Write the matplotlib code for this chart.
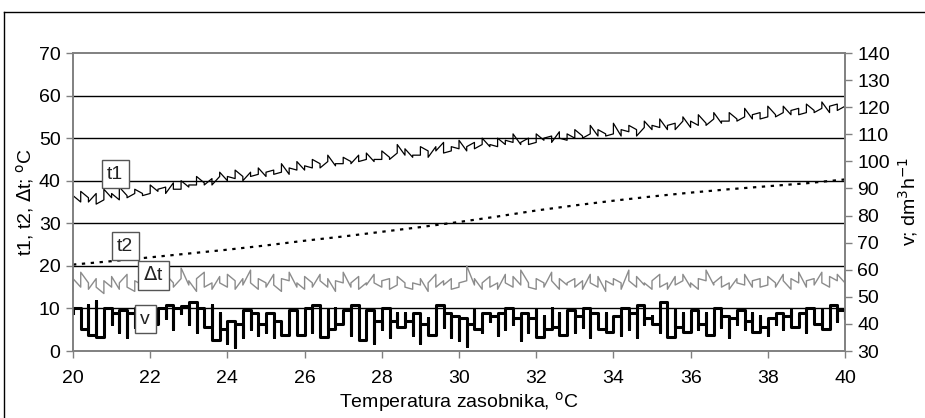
import matplotlib
matplotlib.use("Agg")
import matplotlib.pyplot as plt
from matplotlib.lines import Line2D
import numpy as np

plt.rcParams['font.family'] = ['Liberation Sans', 'DejaVu Sans']
plt.rcParams['font.size'] = 14

# tank temperature, C (each step has a pair of readings)
temp = [20.0, 20.2, 20.4, 20.6, 20.8, 21.0, 21.2, 21.4, 21.6, 21.8,
        22.0, 22.2, 22.4, 22.6, 22.8, 23.0, 23.2, 23.4, 23.6, 23.8,
        24.0, 24.2, 24.4, 24.6, 24.8, 25.0, 25.2, 25.4, 25.6, 25.8,
        26.0, 26.2, 26.4, 26.6, 26.8, 27.0, 27.2, 27.4, 27.6, 27.8,
        28.0, 28.2, 28.4, 28.6, 28.8, 29.0, 29.2, 29.4, 29.6, 29.8,
        30.0, 30.2, 30.4, 30.6, 30.8, 31.0, 31.2, 31.4, 31.6, 31.8,
        32.0, 32.2, 32.4, 32.6, 32.8, 33.0, 33.2, 33.4, 33.6, 33.8,
        34.0, 34.2, 34.4, 34.6, 34.8, 35.0, 35.2, 35.4, 35.6, 35.8,
        36.0, 36.2, 36.4, 36.6, 36.8, 37.0, 37.2, 37.4, 37.6, 37.8,
        38.0, 38.2, 38.4, 38.6, 38.8, 39.0, 39.2, 39.4, 39.6, 39.8,
        40.0]

t1 = [34, 36.5, 35, 37.5, 36, 35, 37, 34.5, 35.5, 38,
      36, 37, 35.5, 38.5, 36.5, 36, 37, 38, 37, 36.5,
      37, 39, 37.5, 38, 38.5, 37, 39.5, 38, 38, 40,
      38.5, 39, 39, 41, 39.5, 39, 40.5, 39, 41, 42,
      40, 41, 40.5, 42.5, 41, 40, 42, 41, 41.5, 43,
      41, 42, 42.5, 41.5, 42, 44, 41.5, 43, 42.5, 44.5,
      42.5, 43.5, 43, 45, 44, 43, 44.5, 46, 43.5, 44,
      44, 45.5, 44.5, 44, 46, 44.5, 45, 46.5, 44.5, 45,
      45, 47, 45.5, 45, 46.5, 48.5, 46, 47.5, 45.5, 46,
      46, 48, 47, 45.5, 48, 47, 49, 46.5, 47, 48,
      47.5, 49.5, 47, 48, 49, 47.5, 48.5, 50, 48, 48.5,
      48, 50, 48.5, 49.5, 49, 51, 48.5, 49, 50, 48.5,
      49, 51, 49.5, 50, 50.5, 49, 51.5, 50, 49.5, 51,
      50, 52, 50.5, 50, 51, 53, 50.5, 52, 51, 50.5,
      51, 53.5, 50.5, 52, 51.5, 53, 52, 50.5, 52.5, 54,
      52, 53, 52.5, 54.5, 52, 53, 53.5, 52, 54, 55,
      52.5, 54, 53, 55.5, 53.5, 53, 54.5, 56, 53.5, 54,
      54, 56, 54.5, 54, 55, 57, 54.5, 55.5, 56, 54.5,
      55, 57.5, 55.5, 55, 56, 57.5, 55.5, 56.5, 57, 55.5,
      56, 58, 56.5, 56, 57, 58.5, 56, 57.5, 58, 56.5,
      57.5, 59.5]

dt = [14, 17, 15, 18.5, 16, 14.5, 17, 15, 13.5, 16.5,
      15, 17.5, 14.5, 16, 18, 15, 14, 16.5, 15.5, 18,
      15, 16, 17.5, 15.5, 14.5, 18, 16, 15, 17, 19.5,
      15.5, 16.5, 14, 17, 18.5, 15, 16, 14.5, 17.5, 16,
      15, 18, 16.5, 14.5, 17, 15.5, 19, 16, 14.5, 17,
      16, 15, 18, 15.5, 14, 17, 16.5, 18.5, 15, 16,
      14.5, 17.5, 16, 15, 18, 16.5, 15, 17, 14, 16.5,
      16, 18.5, 15, 16, 17.5, 14.5, 16, 15.5, 18, 16,
      15, 16.5, 17, 14.5, 15.5, 17.5, 16, 15, 14.5, 16,
      15.5, 17, 14, 16, 18, 15, 16.5, 15.5, 17, 14.5,
      15, 16, 16.5, 20, 15.5, 17, 14.5, 16, 17.5, 15,
      16, 14.5, 18, 16, 15, 17.5, 15.5, 19, 16, 15,
      14.5, 17, 16, 15, 18.5, 16.5, 14.5, 17, 15.5, 16,
      17, 15, 16.5, 14.5, 18, 16, 15, 17.5, 14, 16.5,
      15.5, 17, 16, 14.5, 19, 16.5, 15, 17.5, 15.5, 16,
      14.5, 16.5, 18, 15, 16, 14.5, 17.5, 15.5, 16.5, 18,
      15, 16, 14.5, 17, 16.5, 19, 15.5, 16, 17.5, 15,
      16, 14.5, 17, 16, 15.5, 18, 15, 16.5, 17, 15,
      15.5, 17.5, 16, 15, 18, 16.5, 14.5, 17, 16, 18.5,
      15, 16.5, 17, 15.5, 18.5, 16, 15, 17.5, 16.5, 18,
      16, 18.5]

# flow, dm3/h (right axis)
v = [44, 46, 45, 38, 47, 36, 48.5, 35, 42, 46,
     40, 44, 37, 45, 35, 44, 39, 46, 37, 41,
     45, 40, 46, 46, 42, 47, 38, 46, 44, 46.5,
     40, 48, 37, 46, 43, 39, 47, 34, 44, 38,
     33, 41, 31.5, 40, 35, 45, 38, 44, 36, 40,
     37, 44, 35, 41, 38, 36, 42, 45, 38, 36,
     44, 46, 37, 47, 41, 35, 45, 38, 46, 40,
     42, 45, 36, 47, 43, 34, 40, 45, 33, 41,
     38, 46, 35, 41, 44, 39, 44, 41, 36, 44,
     33, 40, 42, 36, 45, 47, 39, 44, 35, 43,
     34, 42, 32, 40, 45, 38, 37, 44, 41, 43,
     36, 44, 38, 46, 40, 42, 34, 44, 37, 42,
     45, 35, 43, 38, 46, 39, 44, 36, 41, 45,
     37, 43, 39, 46, 35, 44, 40, 38, 44, 37,
     41, 43, 36, 46, 38, 44, 35, 47, 40, 42,
     43, 40, 37, 48, 42, 35, 45, 39, 44, 37,
     42, 45, 38, 40, 44, 36, 41, 46, 39, 43,
     35, 42, 40, 45, 38, 41, 44, 37, 43, 39,
     36, 42, 40, 44, 38, 43, 45, 39, 41, 44,
     37, 46, 42, 40, 45, 38, 44, 47, 41, 45,
     42, 45]

t2_temp = [20, 21, 22, 23, 24, 25, 26, 27, 28, 29, 30,
           31, 32, 33, 34, 35, 36, 37, 38, 39, 40]
t2 = [20.3, 21.1, 22.0, 22.9, 23.8, 24.8, 25.9, 26.9, 28.0, 29.1, 30.3,
      31.6, 33.0, 34.2, 35.3, 36.3, 37.2, 38.0, 38.7, 39.4, 40.3]

xx = np.repeat(temp, 2)

fig = plt.figure(figsize=(9.25, 4.18), dpi=100)
ax = fig.add_axes([73/925, 1-351/418, 772/925, 298/418])
ax2 = ax.twinx()

ax.plot(xx, t1, color='black', lw=0.9)
ax.plot(xx, dt, color='#8c8c8c', lw=1.0)
ax.plot(t2_temp, t2, color='black', lw=1.6, linestyle=(0, (1.5, 2.5)))
ax2.plot(xx, v, color='black', lw=2.2, drawstyle='steps-post')

ax.set_xlim(20, 40)
ax.set_ylim(0, 70)
ax.set_xticks(np.arange(20, 41, 2))
ax.set_yticks(np.arange(0, 71, 10))
ax2.set_ylim(30, 140)
ax2.set_yticks(np.arange(30, 141, 10))

for y in range(10, 70, 10):
    ax.axhline(y, color='black', lw=1.0, zorder=0)

for a in (ax, ax2):
    for s in a.spines.values():
        s.set_color('#808080')
        s.set_linewidth(1.2)
    a.tick_params(direction='out', length=5, width=1, color='#808080',
                  labelsize=14, pad=4)
ax.tick_params(axis='x', pad=9)

ax.set_xlabel('Temperatura zasobnika, $^{\\rm o}$C', fontsize=14, labelpad=2)
ax.set_ylabel('t1, t2, $\\Delta$t; $^{\\rm o}$C', fontsize=14, labelpad=2)
ax2.set_ylabel('v; dm$^3$h$^{-1}$', fontsize=14, labelpad=4)

box = dict(boxstyle='square,pad=0.28', fc='white', ec='#555555', lw=1)
for lab, x, y in [('t1', 21.09, 41.5), ('t2', 21.35, 24.6),
                  ('$\\Delta$t', 22.09, 17.8), ('v', 21.87, 7.5)]:
    ax2.text(x, y, lab, transform=ax.transData, ha='center', va='center',
             fontsize=14, color='#222222', bbox=box, zorder=10)

# chart area frame (top and left edges visible)
fig.add_artist(Line2D([4/925, 1], [1-12/418, 1-12/418], color='black', lw=1))
fig.add_artist(Line2D([4/925, 4/925], [0, 1-12/418], color='black', lw=1))

fig.savefig('out.png', dpi=100)
